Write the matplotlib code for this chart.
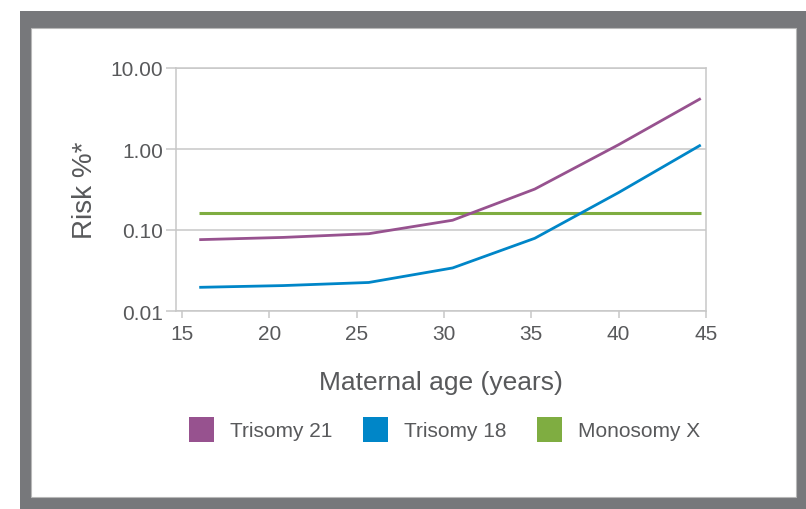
import matplotlib.pyplot as plt
from matplotlib.patches import Rectangle, Patch

# values
ages = [16, 20.8, 25.7, 30.5, 35.2, 40, 44.7]
trisomy21 = [0.076, 0.081, 0.09, 0.132, 0.32, 1.13, 4.2]
trisomy18 = [0.0196, 0.0206, 0.0225, 0.034, 0.079, 0.29, 1.12]
mono_ages = [16, 44.7]
monosomy_x = [0.163, 0.163]

series_names = ["Trisomy 21", "Trisomy 18", "Monosomy X"]
colors = ["#97528f", "#0086c8", "#7fad41"]
yticks = [0.01, 0.1, 1, 10]
ytick_labels = ["0.01", "0.10", "1.00", "10.00"]
xticks = [15, 20, 25, 30, 35, 40, 45]

text_col = "#58595b"
grid_col = "#c8c8c8"
plt.rcParams['font.family'] = ['Liberation Sans', 'DejaVu Sans']

fig = plt.figure(figsize=(8.06, 5.10), dpi=100)

# grey frame round the panel
fig.patches.append(Rectangle((20 / 806, 0), 786 / 806, 498 / 510, transform=fig.transFigure,
                             facecolor="#77787b", edgecolor="none", zorder=-2))
fig.patches.append(Rectangle((31 / 806, 12 / 510), 765 / 806, 469 / 510, transform=fig.transFigure,
                             facecolor="white", edgecolor="#b8b8b8", linewidth=0.8, zorder=-1))

ax = fig.add_axes([176 / 806, 198 / 510, 530 / 806, 243 / 510])
ax.set_zorder(2)
ax.set_facecolor("none")

ax.plot(ages, trisomy21, color=colors[0], lw=2.0, solid_capstyle="butt", zorder=3)
ax.plot(ages, trisomy18, color=colors[1], lw=2.0, solid_capstyle="butt", zorder=3)
ax.plot(mono_ages, monosomy_x, color=colors[2], lw=2.2, solid_capstyle="butt", zorder=2)

ax.set_yscale("log")
ax.set_ylim(0.01, 10)
ax.set_xlim(14.67, 45)
ax.set_yticks(yticks)
ax.set_yticklabels(ytick_labels)
ax.minorticks_off()
ax.set_xticks(xticks)
ax.set_xticklabels([str(x) for x in xticks])

ax.grid(axis="y", color=grid_col, lw=1.1)
ax.set_axisbelow(True)
for s in ax.spines.values():
    s.set_color(grid_col)
    s.set_linewidth(1.1)
ax.tick_params(axis="y", length=7, width=1.1, color=grid_col, pad=2.5, labelsize=15, labelcolor=text_col)
ax.tick_params(axis="x", length=5, width=1.1, color=grid_col, pad=4.5, labelsize=15, labelcolor=text_col)

ax.set_xlabel("Maternal age (years)", fontsize=19, color=text_col, labelpad=19)
ax.set_ylabel("Risk %*", fontsize=20, color=text_col)
ax.yaxis.set_label_coords(-0.147, 0.5)

handles = [Patch(facecolor=c, edgecolor="none") for c in colors]
leg = fig.legend(handles, series_names, loc="center", bbox_to_anchor=(444.5 / 806, 1 - 430.5 / 510),
                 ncol=3, frameon=False, fontsize=15, labelcolor=text_col,
                 handlelength=1.2, handleheight=1.5, handletextpad=0.77, columnspacing=1.45)
leg.set_zorder(3)

fig.savefig("out.png", dpi=100)
